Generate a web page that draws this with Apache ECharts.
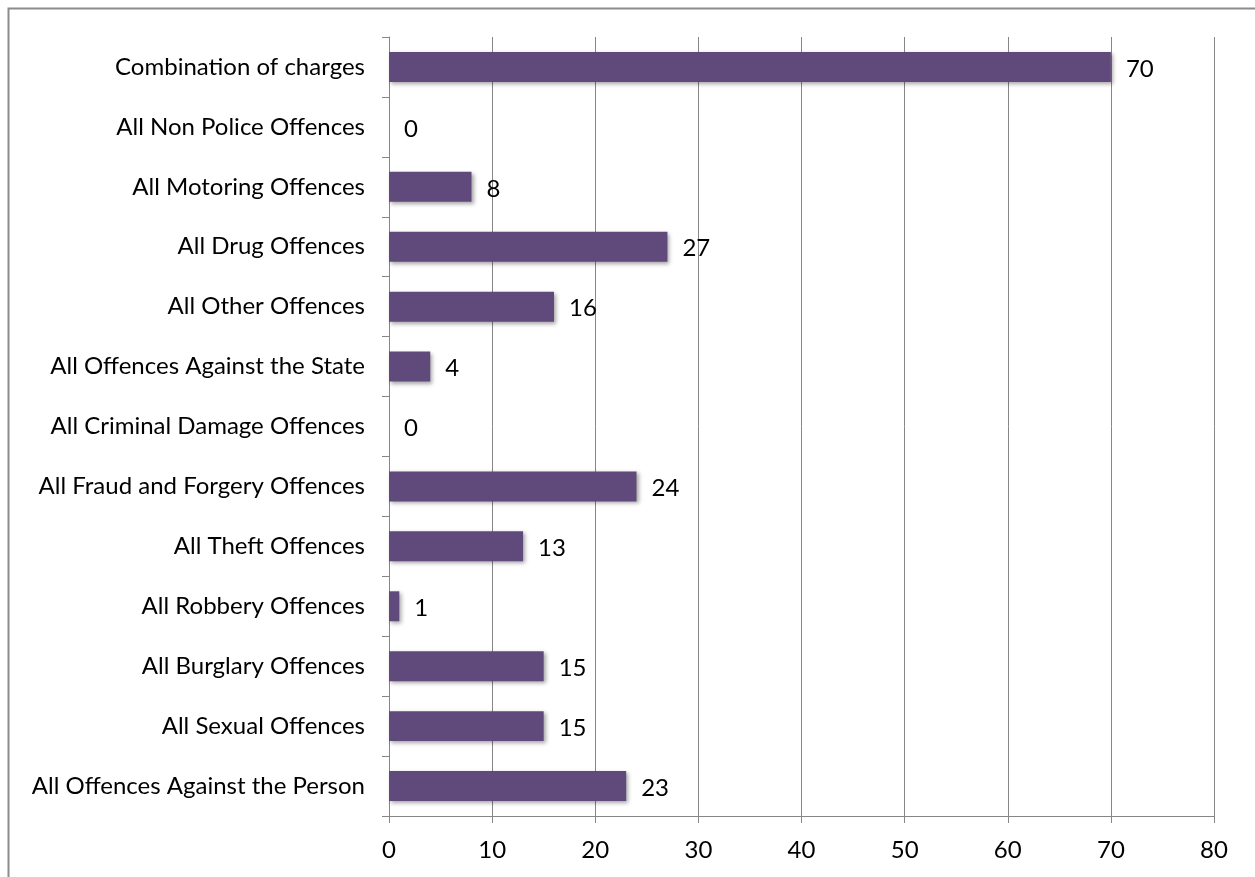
<!DOCTYPE html>
<html><head><meta charset="utf-8">
<script src="https://cdn.jsdelivr.net/npm/echarts@6/dist/echarts.min.js"></script>
<style>html,body{margin:0;padding:0;background:#fff}#c{width:1255px;height:877px}</style>
</head><body><div id="c"></div>
<script>
const categories = ["All Offences Against the Person","All Sexual Offences","All Burglary Offences","All Robbery Offences","All Theft Offences","All Fraud and Forgery Offences","All Criminal Damage Offences","All Offences Against the State","All Other Offences","All Drug Offences","All Motoring Offences","All Non Police Offences","Combination of charges"];
const values = [23,15,15,1,13,24,0,4,16,27,8,0,70];
const xTicks = [0,10,20,30,40,50,60,70,80];

const chart = echarts.init(document.getElementById('c'));
const font = "Lato, 'Open Sans', sans-serif";
chart.setOption({
  animation:false,
  graphic:[{type:'rect',shape:{x:8.5,y:8.5,width:1400,height:1000},style:{fill:'none',stroke:'#8c8c8c',lineWidth:2}}],
  grid:{left:389,right:41,top:37,bottom:61},
  xAxis:{type:'value',min:xTicks[0],max:xTicks[xTicks.length-1],interval:10,
    axisLine:{show:true,lineStyle:{color:'#868686'}},
    axisTick:{show:true,length:7,lineStyle:{color:'#868686'}},
    splitLine:{show:true,lineStyle:{color:'#868686'}},
    axisLabel:{color:'#000',fontSize:24,fontFamily:font,margin:22}},
  yAxis:{type:'category',data:categories,
    axisLine:{show:true,lineStyle:{color:'#868686'}},
    axisTick:{show:true,length:7,alignWithLabel:false,lineStyle:{color:'#868686'}},
    axisLabel:{color:'#000',fontSize:24,fontFamily:font,margin:24}},
  series:[{type:'bar',data:values,barWidth:'50%',
    itemStyle:{color:'#604A7B',shadowColor:'rgba(0,0,0,0.35)',shadowBlur:4,shadowOffsetX:2,shadowOffsetY:2},
    label:{show:true,position:'right',distance:15,offset:[0,2],color:'#000',fontSize:24,fontFamily:font}}]
});
</script></body></html>
